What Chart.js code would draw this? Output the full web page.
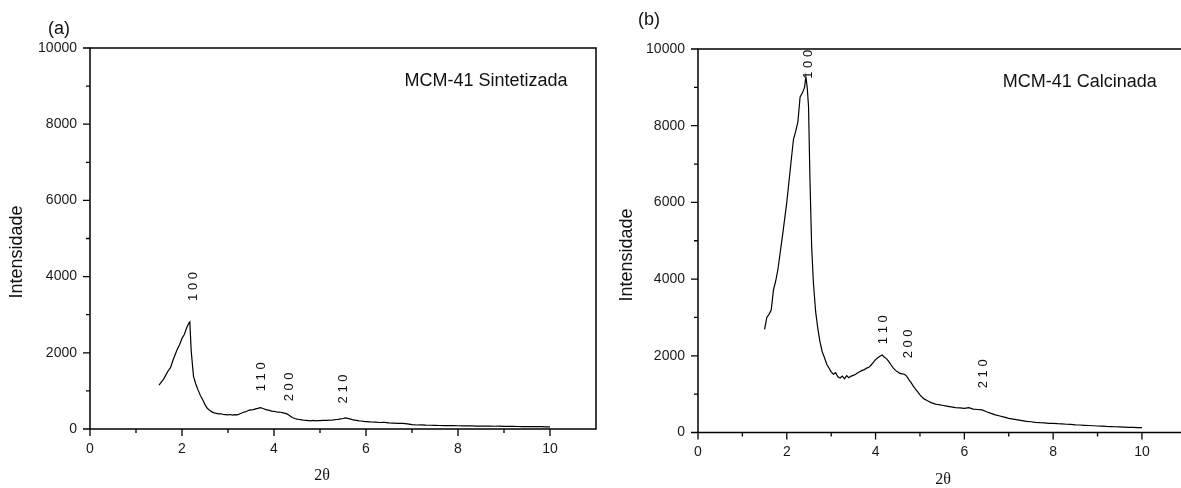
<!DOCTYPE html>
<html lang="pt">
<head>
  <meta charset="UTF-8">
  <title>DRX MCM-41</title>
  <script src="https://cdn.jsdelivr.net/npm/chart.js"></script>
  <style>
    body {
      margin: 0;
      background: white;
      font-family: "Liberation Sans", Arial, sans-serif;
    }
    .panel {
      position: absolute;
      top: 0;
    }
  </style>
</head>
<body>
  <div class="panel" style="left:0"><canvas id="chartA" width="608" height="488"></canvas></div>
  <div class="panel" style="left:600px"><canvas id="chartB" width="581" height="488"></canvas></div>

  <script>
    // (a) MCM-41 Sintetizada
    const twoThetaA = [
      1.50, 1.55, 1.60, 1.65, 1.70, 1.75, 1.80, 1.85, 1.90, 1.95, 2.00, 2.05, 2.10, 2.15, 2.17,
      2.20, 2.25, 2.30, 2.35, 2.40, 2.45, 2.50, 2.55, 2.60, 2.65, 2.70, 2.75, 2.80, 2.85, 2.90,
      2.95, 3.00, 3.05, 3.10, 3.15, 3.20, 3.25, 3.30, 3.35, 3.40, 3.45, 3.50, 3.55, 3.60, 3.65,
      3.70, 3.75, 3.80, 3.85, 3.90, 3.95, 4.00, 4.05, 4.10, 4.15, 4.20, 4.25, 4.30, 4.35, 4.40,
      4.45, 4.50, 4.55, 4.60, 4.65, 4.70, 4.75, 4.80, 4.85, 4.90, 4.95, 5.00, 5.05, 5.10, 5.15,
      5.20, 5.25, 5.30, 5.35, 5.40, 5.45, 5.50, 5.55, 5.60, 5.65, 5.70, 5.75, 5.80, 5.85, 5.90,
      5.95, 6.00, 6.10, 6.20, 6.30, 6.40, 6.50, 6.60, 6.70, 6.80, 6.90, 7.00, 7.10, 7.20, 7.30,
      7.40, 7.50, 7.60, 7.70, 7.80, 7.90, 8.00, 8.10, 8.20, 8.30, 8.40, 8.50, 8.60, 8.70, 8.80,
      8.90, 9.00, 9.10, 9.20, 9.30, 9.40, 9.50, 9.60, 9.70, 9.80, 9.90, 10.00
    ];
    const intensA = [
      1150, 1230, 1310, 1420, 1530, 1610, 1790, 1950, 2100, 2220, 2380, 2480, 2650, 2780, 2810,
      2050, 1380, 1180, 1020, 880, 770, 640, 545, 490, 450, 425, 410, 395, 400, 380,
      375, 370, 380, 365, 375, 370, 395, 420, 445, 460, 490, 500, 510, 530, 540,
      560, 545, 520, 500, 490, 470, 465, 450, 445, 440, 425, 410, 385, 340, 300,
      275, 260, 250, 240, 230, 225, 220, 215, 225, 215, 220, 218, 225, 230, 225,
      235, 230, 240, 250, 255, 265, 275, 290, 280, 265, 245, 235, 225, 215, 210,
      200, 195, 185, 182, 170, 172, 160, 155, 150, 150, 135, 115, 105, 108, 100,
      98, 95, 92, 90, 88, 90, 85, 82, 80, 82, 78, 76, 78, 74, 72,
      73, 70, 68, 69, 66, 64, 65, 62, 60, 61, 57, 55
    ];

    // (b) MCM-41 Calcinada
    const twoThetaB = [
      1.50, 1.55, 1.60, 1.65, 1.70, 1.75, 1.80, 1.85, 1.90, 1.95, 2.00, 2.05, 2.10, 2.15, 2.20,
      2.25, 2.30, 2.35, 2.40, 2.43, 2.46, 2.49, 2.52, 2.56, 2.60, 2.65, 2.70, 2.75, 2.80, 2.85,
      2.90, 2.95, 3.00, 3.05, 3.10, 3.15, 3.20, 3.25, 3.30, 3.35, 3.40, 3.45, 3.50, 3.55, 3.60,
      3.65, 3.70, 3.75, 3.80, 3.85, 3.90, 3.95, 4.00, 4.05, 4.10, 4.15, 4.20, 4.25, 4.30, 4.35,
      4.40, 4.45, 4.50, 4.55, 4.60, 4.65, 4.70, 4.75, 4.80, 4.85, 4.90, 4.95, 5.00, 5.05, 5.10,
      5.15, 5.20, 5.25, 5.30, 5.35, 5.40, 5.45, 5.50, 5.60, 5.70, 5.80, 5.90, 6.00, 6.10, 6.20,
      6.30, 6.40, 6.50, 6.60, 6.70, 6.80, 6.90, 7.00, 7.10, 7.20, 7.30, 7.40, 7.50, 7.60, 7.70,
      7.80, 7.90, 8.00, 8.10, 8.20, 8.30, 8.40, 8.50, 8.60, 8.70, 8.80, 8.90, 9.00, 9.10, 9.20,
      9.30, 9.40, 9.50, 9.60, 9.70, 9.80, 9.90, 10.00
    ];
    const intensB = [
      2690, 3000, 3080, 3200, 3720, 3950, 4250, 4680, 5100, 5550, 6000, 6550, 7100, 7640, 7850,
      8100, 8750, 8850, 9000, 9270, 9000, 8500, 6700, 4850, 3900, 3150, 2700, 2350, 2100, 1950,
      1780, 1680, 1580, 1520, 1560, 1450, 1420, 1470, 1400, 1480, 1430, 1470, 1490, 1520, 1560,
      1590, 1620, 1640, 1680, 1700, 1760, 1830, 1900, 1950, 1990, 2020, 1960, 1920, 1850, 1760,
      1680, 1620, 1580, 1540, 1530, 1520, 1470, 1380, 1300, 1210, 1130, 1060, 980, 920, 870,
      840, 810, 780, 760, 740, 730, 720, 710, 690, 670, 650, 640, 630, 650, 610,
      600, 590, 540, 500, 460, 430, 400, 370, 350, 330, 310, 290, 280, 265, 255,
      250, 240, 240, 230, 225, 215, 210, 200, 195, 188, 182, 176, 170, 168, 160,
      155, 150, 145, 140, 135, 132, 128, 125
    ];

    // reflexões (hkl) e onde ficam os rótulos (2θ, intensidade)
    const hklLabels = ['1 0 0', '1 1 0', '2 0 0', '2 1 0'];
    const hklPosA = [[2.24, 3740], [3.73, 1370], [4.33, 1105], [5.52, 1050]];
    const hklPosB = [[2.48, 9600], [4.17, 2680], [4.74, 2310], [6.43, 1530]];

    const xTickStep = 1;
    const yTickStep = 1000;

    const tickFont = { family: 'Liberation Sans', size: 14 };
    const tickColor = '#1a1a1a';

    // moldura, marcas dos eixos e textos
    const framePlugin = {
      id: 'frame',
      afterDraw(chart, args, opts) {
        const ctx = chart.ctx;
        const a = chart.chartArea;
        const xs = chart.scales.x;
        const ys = chart.scales.y;
        ctx.save();
        ctx.strokeStyle = '#000';
        ctx.lineWidth = 1.5;
        ctx.beginPath();
        ctx.moveTo(a.left, a.bottom);
        ctx.lineTo(a.left, a.top);
        ctx.lineTo(a.right, a.top);
        if (opts.rightBorder) {
          ctx.lineTo(a.right, a.bottom);
        } else {
          ctx.moveTo(a.right, a.bottom);
        }
        ctx.lineTo(a.left, a.bottom);
        ctx.stroke();

        ctx.lineWidth = 1.3;
        ctx.beginPath();
        xs.ticks.forEach(t => {
          if (t.value > 10) return;
          const px = xs.getPixelForValue(t.value);
          const len = t.value % 2 === 0 ? 7 : 4;
          ctx.moveTo(px, a.bottom);
          ctx.lineTo(px, a.bottom + len);
        });
        ys.ticks.forEach(t => {
          const py = ys.getPixelForValue(t.value);
          const len = t.value % 2000 === 0 ? 7 : 4;
          ctx.moveTo(a.left, py);
          ctx.lineTo(a.left - len, py);
        });
        ctx.stroke();

        ctx.fillStyle = '#111';
        // rótulos hkl, girados
        ctx.font = '13px "Liberation Sans"';
        ctx.textAlign = 'center';
        ctx.textBaseline = 'middle';
        hklLabels.forEach((lab, i) => {
          const p = opts.hkl[i];
          ctx.save();
          ctx.translate(xs.getPixelForValue(p[0]), ys.getPixelForValue(p[1]));
          ctx.rotate(-Math.PI / 2);
          ctx.fillText(lab, 0, 0);
          ctx.restore();
        });

        // nome da amostra
        ctx.font = '18px "Liberation Sans"';
        ctx.textBaseline = 'alphabetic';
        ctx.fillText(opts.sample, xs.getPixelForValue(opts.samplePos[0]), ys.getPixelForValue(opts.samplePos[1]));

        // letra do painel
        ctx.textBaseline = 'middle';
        ctx.fillText(opts.letter, opts.letterPos[0], opts.letterPos[1]);

        // títulos dos eixos
        ctx.save();
        ctx.translate(opts.yTitlePos[0], opts.yTitlePos[1]);
        ctx.rotate(-Math.PI / 2);
        ctx.fillText('Intensidade', 0, 0);
        ctx.restore();

        ctx.font = '16px "Liberation Serif"';
        ctx.fillText('2θ', opts.xTitlePos[0], opts.xTitlePos[1]);
        ctx.restore();
      }
    };

    function makeChart(id, xs, ys, cfg) {
      return new Chart(document.getElementById(id), {
        type: 'scatter',
        data: {
          datasets: [{
            data: xs.map((x, i) => ({ x: x, y: ys[i] })),
            showLine: true,
            borderColor: '#000',
            borderWidth: 1.2,
            pointRadius: 0,
            tension: 0
          }]
        },
        options: {
          responsive: false,
          animation: false,
          layout: { padding: { left: 0, right: cfg.padRight, top: cfg.top, bottom: 0 } },
          plugins: {
            legend: { display: false },
            tooltip: { enabled: false },
            frame: cfg.frame
          },
          scales: {
            x: {
              type: 'linear',
              min: 0,
              max: cfg.xMax,
              grid: { display: false },
              border: { display: false },
              ticks: {
                stepSize: xTickStep,
                includeBounds: false,
                autoSkip: false,
                maxRotation: 0,
                padding: cfg.xPad,
                font: tickFont,
                color: tickColor,
                callback: v => (v % 2 === 0 && v <= 10 ? v : '')
              },
              afterFit: s => { s.height = cfg.xHeight; }
            },
            y: {
              min: 0,
              max: 10000,
              grid: { display: false },
              border: { display: false },
              ticks: {
                stepSize: yTickStep,
                autoSkip: false,
                padding: 5,
                font: tickFont,
                color: tickColor,
                callback: v => (v % 2000 === 0 ? v : '')
              },
              afterFit: s => { s.width = cfg.yWidth; }
            }
          }
        },
        plugins: [framePlugin]
      });
    }

    makeChart('chartA', twoThetaA, intensA, {
      padRight: 12, top: 48, xMax: 11, xPad: 4, xHeight: 59, yWidth: 90,
      frame: {
        rightBorder: true,
        hkl: hklPosA,
        sample: 'MCM-41 Sintetizada',
        samplePos: [8.61, 9010],
        letter: '(a)',
        letterPos: [59, 29],
        yTitlePos: [17, 252],
        xTitlePos: [322, 476]
      }
    });

    makeChart('chartB', twoThetaB, intensB, {
      padRight: 0, top: 49, xMax: 10.88, xPad: 3, xHeight: 55.5, yWidth: 98,
      frame: {
        rightBorder: false,
        hkl: hklPosB,
        sample: 'MCM-41 Calcinada',
        samplePos: [8.6, 9020],
        letter: '(b)',
        letterPos: [49, 20],
        yTitlePos: [27, 255],
        xTitlePos: [343, 480]
      }
    });
  </script>
</body>
</html>
